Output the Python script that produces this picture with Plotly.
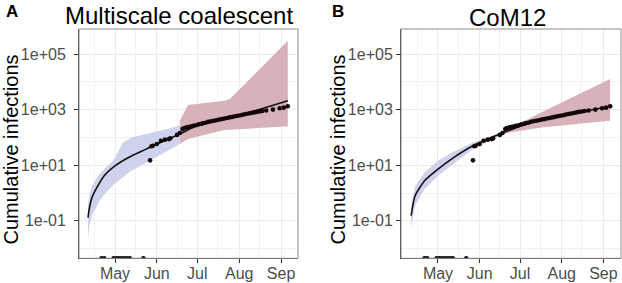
import plotly.graph_objects as go

# ---------------- data ----------------
obs_dates = ["2020-05-27", "2020-05-28", "2020-05-29", "2020-06-01", "2020-06-04", "2020-06-07",
             "2020-06-10", "2020-06-11", "2020-06-16", "2020-06-18",
             "2020-06-20", "2020-06-21", "2020-06-23", "2020-06-25", "2020-06-27", "2020-06-28",
             "2020-06-30", "2020-07-02", "2020-07-04", "2020-07-05", "2020-07-07", "2020-07-09",
             "2020-07-11", "2020-07-13", "2020-07-15", "2020-07-17", "2020-07-19", "2020-07-21",
             "2020-07-23", "2020-07-25", "2020-07-27", "2020-07-29", "2020-07-31", "2020-08-02",
             "2020-08-04", "2020-08-06", "2020-08-08", "2020-08-10", "2020-08-12", "2020-08-14",
             "2020-08-16", "2020-08-18", "2020-08-21", "2020-08-26", "2020-08-31", "2020-09-03",
             "2020-09-06"]
obs_values = [15, 48, 50, 58, 76, 83, 87, 93, 123, 145,
              200, 214, 229, 240, 251, 263, 275, 295, 309, 324, 339, 363,
              380, 398, 417, 437, 457, 479, 501, 525, 550, 575, 603, 631,
              661, 692, 724, 759, 794, 832, 851, 891, 933, 1000, 1122, 1175, 1318]
zero_dates = ["2020-04-21", "2020-04-23", "2020-04-30", "2020-05-02", "2020-05-04", "2020-05-06",
              "2020-05-08", "2020-05-10", "2020-05-12", "2020-05-22"]
zero_values = [0] * len(zero_dates)

# Panel A: Multiscale coalescent
a_line_dates = ["2020-04-11", "2020-04-12", "2020-04-14", "2020-04-17", "2020-04-23", "2020-05-01",
                "2020-05-11", "2020-05-24", "2020-05-29", "2020-06-18", "2020-06-30", "2020-07-27",
                "2020-09-06"]
a_line_values = [0.13, 0.28, 0.7, 1.4, 4.2, 9.5, 19, 38, 50, 132, 257, 525, 2090]
a_blue_dates = ["2020-04-11", "2020-04-12", "2020-04-14", "2020-04-19", "2020-04-23", "2020-04-29",
                "2020-05-01", "2020-05-07", "2020-05-11", "2020-05-13", "2020-05-29", "2020-06-18"]
a_blue_low = [0.0224, 0.063, 0.151, 0.468, 0.891, 1.82, 2.24, 3.8, 5.5, 6.3, 16.6, 57.5]
a_blue_high = [0.355, 0.79, 1.82, 4.47, 7.24, 13.2, 19.1, 66, 85, 100, 151, 263]
a_red_dates = ["2020-06-18", "2020-06-24", "2020-07-21", "2020-07-25", "2020-09-06"]
a_red_low = [57.5, 88, 186, 190, 251]
a_red_high = [400, 1480, 2090, 2400, 302000]

# Panel B: CoM12
b_line_dates = ["2020-04-11", "2020-04-14", "2020-04-21", "2020-05-01", "2020-05-11", "2020-05-27",
                "2020-06-19", "2020-07-18", "2020-08-21", "2020-09-06"]
b_line_values = [0.155, 0.8, 2.75, 7.2, 16.6, 50, 151, 457, 933, 1318]
b_blue_dates = ["2020-04-11", "2020-04-14", "2020-04-21", "2020-05-01", "2020-05-11", "2020-05-27",
                "2020-06-19"]
b_blue_low = [0.059, 0.355, 1.38, 4.17, 10, 38, 138]
b_blue_high = [0.355, 1.78, 5.5, 14.5, 28.2, 66, 166]
b_red_dates = ["2020-06-19", "2020-07-17", "2020-09-06"]
b_red_low = [138, 229, 398]
b_red_high = [166, 800, 12600]

y_tickvals = [1e-1, 1e1, 1e3, 1e5]
y_ticktext = ["1e-01", "1e+01", "1e+03", "1e+05"]
y_minorvals = [1e-2, 1e0, 1e2, 1e4]
x_tickvals = ["2020-05-01", "2020-06-01", "2020-07-01", "2020-08-01", "2020-09-01"]
x_ticktext = ["May", "Jun", "Jul", "Aug", "Sep"]
x_minorvals = ["2020-04-16", "2020-05-16", "2020-06-16", "2020-07-16", "2020-08-16"]

panel_titles = ["Multiscale coalescent", "CoM12"]
panel_letters = ["A", "B"]
y_title = "Cumulative infections"

# ---------------- style ----------------
BLUE = "rgb(207,210,236)"
RED = "rgb(215,178,184)"
FONT = "Liberation Sans, Arial, sans-serif"
W, H = 622, 283
Y_RANGE = [-2.348, 5.9]

fig = go.Figure()


def add_panel(xa, ya, blue_d, blue_lo, blue_hi, red_d, red_lo, red_hi, line_d, line_v):
    fig.add_trace(go.Scatter(x=blue_d + blue_d[::-1], y=blue_hi + blue_lo[::-1], fill="toself",
                             fillcolor=BLUE, line=dict(width=0, color=BLUE), mode="lines",
                             hoverinfo="skip", xaxis=xa, yaxis=ya, showlegend=False))
    fig.add_trace(go.Scatter(x=red_d + red_d[::-1], y=red_hi + red_lo[::-1], fill="toself",
                             fillcolor=RED, line=dict(width=0, color=RED), mode="lines",
                             hoverinfo="skip", xaxis=xa, yaxis=ya, showlegend=False))
    fig.add_trace(go.Scatter(x=line_d, y=line_v, mode="lines",
                             line=dict(color="#111111", width=1.6, shape="spline", smoothing=0.6),
                             xaxis=xa, yaxis=ya, showlegend=False))
    fig.add_trace(go.Scatter(x=obs_dates, y=obs_values, mode="markers",
                             marker=dict(color="#120808", size=4.6),
                             xaxis=xa, yaxis=ya, showlegend=False))
    # zero counts are squished onto the bottom of the panel (log scale)
    fig.add_trace(go.Scatter(x=zero_dates, y=[10 ** Y_RANGE[0] for _ in zero_values], mode="markers",
                             marker=dict(color="#120808", size=4.6), cliponaxis=True,
                             xaxis=xa, yaxis=ya, showlegend=False))


add_panel("x", "y", a_blue_dates, a_blue_low, a_blue_high, a_red_dates, a_red_low, a_red_high,
          a_line_dates, a_line_values)
add_panel("x2", "y2", b_blue_dates, b_blue_low, b_blue_high, b_red_dates, b_red_low, b_red_high,
          b_line_dates, b_line_values)

px_a = (79, 298)
px_b = (401, 621)
top_px, bot_px = 29, 258.3
ydom = [(H - bot_px) / H, (H - top_px) / H]


def xaxis(dom, rng, anchor):
    return dict(domain=[dom[0] / W, dom[1] / W], range=rng, type="date", anchor=anchor,
                automargin=False,
                tickvals=x_tickvals, ticktext=x_ticktext, ticks="outside", ticklen=4,
                tickcolor="#333333", tickwidth=1, ticklabelstandoff=-4,
                tickfont=dict(family=FONT, size=16, color="#4d4d4d"),
                showgrid=True, gridcolor="#ebebeb", gridwidth=1.1,
                minor=dict(tickvals=x_minorvals, showgrid=True, gridcolor="#f2f2f2", gridwidth=0.6,
                           ticks=""),
                showline=True, linecolor="#333333", linewidth=1, zeroline=False,
                fixedrange=True)


def yaxis(anchor, standoff):
    return dict(domain=ydom, type="log", range=Y_RANGE, anchor=anchor,
                automargin=False,
                tickvals=y_tickvals, ticktext=y_ticktext, ticks="outside", ticklen=4,
                tickcolor="#333333", tickwidth=1, ticklabelstandoff=standoff,
                tickfont=dict(family=FONT, size=16, color="#4d4d4d"),
                showgrid=True, gridcolor="#ebebeb", gridwidth=1.1,
                minor=dict(tickvals=y_minorvals, showgrid=True, gridcolor="#f2f2f2", gridwidth=0.6,
                           ticks=""),
                showline=True, linecolor="#333333", linewidth=1, zeroline=False,
                fixedrange=True)


fig.update_layout(
    width=W, height=H,
    margin=dict(l=0, r=0, t=0, b=0, autoexpand=False),
    paper_bgcolor="white", plot_bgcolor="white",
    xaxis=xaxis(px_a, ["2020-04-04 08:00", "2020-09-13 13:30"], "y"),
    yaxis=yaxis("x", 5),
    xaxis2=xaxis(px_b, ["2020-04-03 12:00", "2020-09-14 01:30"], "y2"),
    yaxis2=yaxis("x2", 0),
)

# panel borders (top and right)
for (x0, x1) in (px_a, px_b):
    fig.add_shape(type="rect", xref="paper", yref="paper", x0=x0 / W, x1=x1 / W,
                  y0=ydom[0], y1=ydom[1], line=dict(color="#8c8c8c", width=1), layer="above")

ann = []
for (x0, x1), title, letter, tx, ty, lx, yx in (
        (px_a, panel_titles[0], panel_letters[0], 179, 0, 11.5, 10),
        (px_b, panel_titles[1], panel_letters[1], 507, 2, 338.5, 337)):
    ann.append(dict(text=title, x=tx / W, y=1 - ty / H, xref="paper", yref="paper",
                    xanchor="center", yanchor="top", showarrow=False,
                    font=dict(family=FONT, size=24, color="black")))
    ann.append(dict(text="<b>" + letter + "</b>", x=lx / W, y=1 - 11 / H, xref="paper", yref="paper",
                    xanchor="center", yanchor="middle", showarrow=False,
                    font=dict(family=FONT, size=17, color="black")))
    ann.append(dict(text=y_title, x=yx / W, y=1 - 149.5 / H, xref="paper", yref="paper",
                    xanchor="center", yanchor="middle", showarrow=False, textangle=-90,
                    font=dict(family=FONT, size=20, color="black")))
fig.update_layout(annotations=ann)

fig.write_html("out.html", config={"displayModeBar": False},
               post_script="document.body.style.margin='0';document.body.style.overflow='hidden';")
